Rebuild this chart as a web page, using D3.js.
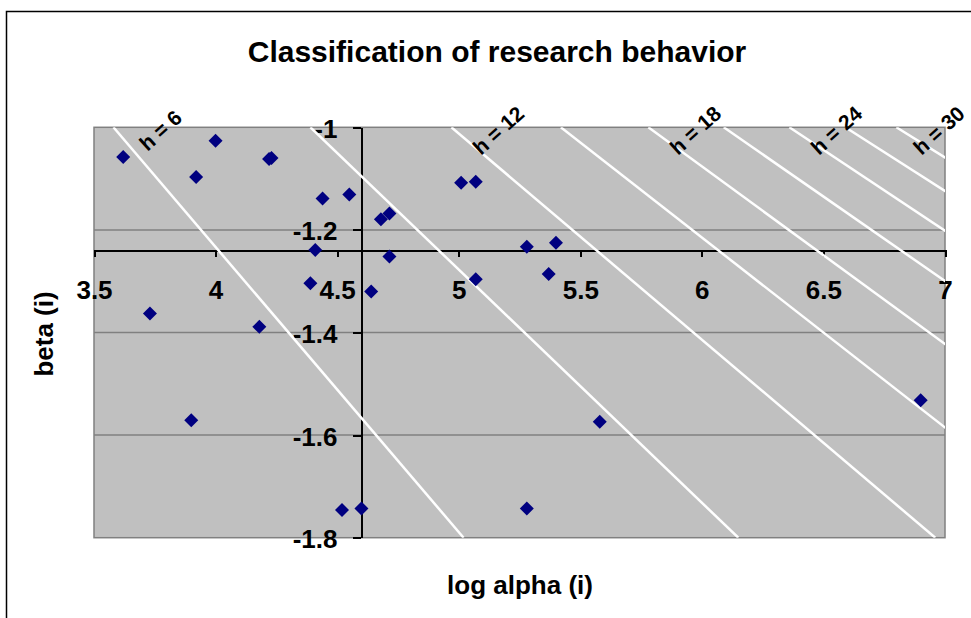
<!DOCTYPE html>
<meta charset="utf-8">
<style>
body { margin: 0; background: #fff; }
text { font-family: Arial, "Liberation Sans", sans-serif; font-weight: bold; fill: #000; }
.axis path, .axis line { stroke: #000; shape-rendering: crispEdges; }
</style>
<body>
<svg width="971" height="618"></svg>
<script src="https://d3js.org/d3.v7.min.js"></script>
<script>
// scatter points: log alpha (i) and beta (i)
var logAlpha = [3.62, 4.00, 3.92, 4.22, 4.23, 4.44, 4.55, 4.68, 4.715, 4.41, 4.715, 4.39, 4.64, 3.73,
                4.18, 3.90, 4.52, 4.60, 5.01, 5.07, 5.28, 5.40, 5.07, 5.37, 5.58, 5.28, 6.90];
var beta = [-1.058, -1.026, -1.097, -1.062, -1.060, -1.139, -1.131, -1.179, -1.168, -1.239, -1.252, -1.304, -1.320, -1.363,
            -1.389, -1.571, -1.746, -1.743, -1.108, -1.106, -1.233, -1.225, -1.296, -1.286, -1.574, -1.743, -1.532];

// iso-h lines: log alpha where each line meets beta = -1 and beta = -1.8
var hValues = [6, 9, 12, 15, 18, 21, 24, 27, 30];
var hAtTop = [3.58, 4.39, 4.97, 5.42, 5.78, 6.09, 6.36, 6.59, 6.80];
var hAtBottom = [5.02, 6.15, 6.96, 7.58, 8.09, 8.52, 8.90, 9.23, 9.52];
var hLabelled = [6, 12, 18, 24, 30];

var xTicks = [3.5, 4, 4.5, 5, 5.5, 6, 6.5, 7];
var yTicks = [-1, -1.2, -1.4, -1.6, -1.8];
var xCross = 4.6, yCross = -1.24;

var svg = d3.select("svg"),
    plot = {left: 94, right: 945, top: 127.3, bottom: 537.7};

var x = d3.scaleLinear().domain([3.5, 7]).range([plot.left, plot.right]);
var y = d3.scaleLinear().domain([-1.8, -1]).range([plot.bottom, plot.top]);

// outer chart frame
svg.append("rect")
    .attr("x", 6.5).attr("y", 11.5).attr("width", 1000).attr("height", 700)
    .attr("fill", "none").attr("stroke", "#000").attr("stroke-width", 1.5);

svg.append("text")
    .attr("x", 497).attr("y", 62)
    .attr("text-anchor", "middle")
    .style("font-size", "30px")
    .text("Classification of research behavior");

// plot area
svg.append("rect")
    .attr("x", plot.left).attr("y", plot.top)
    .attr("width", plot.right - plot.left).attr("height", plot.bottom - plot.top)
    .attr("fill", "#c0c0c0");

svg.append("defs").append("clipPath").attr("id", "clip")
  .append("rect")
    .attr("x", plot.left).attr("y", plot.top)
    .attr("width", plot.right - plot.left).attr("height", plot.bottom - plot.top);

svg.append("g").selectAll("line")
    .data(yTicks.slice(1, -1))
    .enter().append("line")
    .attr("x1", plot.left).attr("x2", plot.right)
    .attr("y1", function(d) { return y(d); }).attr("y2", function(d) { return y(d); })
    .attr("stroke", "#808080").attr("stroke-width", 1.5);

svg.append("rect")
    .attr("x", plot.left).attr("y", plot.top)
    .attr("width", plot.right - plot.left).attr("height", plot.bottom - plot.top)
    .attr("fill", "none").attr("stroke", "#808080").attr("stroke-width", 1.5);

// axes crossing inside the plot
var fmt = function(d) { return String(d); };

var gx = svg.append("g")
    .attr("class", "axis")
    .attr("transform", "translate(0," + y(yCross) + ")")
    .call(d3.axisBottom(x).tickValues(xTicks).tickSize(7).tickSizeOuter(0).tickFormat(fmt));
gx.select(".domain").attr("stroke-width", 2.5);
gx.selectAll(".tick line").attr("stroke-width", 2);
gx.selectAll(".tick text")
    .attr("y", 49).attr("dy", 0)
    .style("font-size", "26px").style("font-family", null);

var gy = svg.append("g")
    .attr("class", "axis")
    .attr("transform", "translate(" + x(xCross) + ",0)")
    .call(d3.axisLeft(y).tickValues(yTicks).tickSize(8).tickSizeOuter(0).tickFormat(fmt));
gy.select(".domain").attr("stroke-width", 2.5);
gy.selectAll(".tick line").attr("stroke-width", 2);
gy.selectAll(".tick text")
    .attr("x", -24).attr("y", 10).attr("dy", 0)
    .style("font-size", "26px").style("font-family", null);

// iso-h lines
svg.append("g")
    .attr("clip-path", "url(#clip)")
    .selectAll("line")
    .data(hValues)
    .enter().append("line")
    .attr("x1", function(d, i) { return x(hAtTop[i]); })
    .attr("y1", y(-1))
    .attr("x2", function(d, i) { return x(hAtBottom[i]); })
    .attr("y2", y(-1.8))
    .attr("stroke", "#fff").attr("stroke-width", 2.5);

svg.append("g").selectAll("text")
    .data(hLabelled)
    .enter().append("text")
    .attr("transform", function(d) {
        var i = hValues.indexOf(d);
        var cx = Math.min(x(hAtTop[i]) + 47, 939);
        return "translate(" + cx + "," + (y(-1) + 3) + ") rotate(-42)";
    })
    .attr("text-anchor", "middle")
    .attr("dy", "0.35em")
    .style("font-size", "21px")
    .text(function(d) { return "h = " + d; });

// data points
var diamond = d3.symbol().type(d3.symbolSquare).size(98);
svg.append("g").selectAll("path")
    .data(logAlpha)
    .enter().append("path")
    .attr("d", diamond)
    .attr("transform", function(d, i) { return "translate(" + x(d) + "," + y(beta[i]) + ") rotate(45)"; })
    .attr("fill", "#000080");

// axis titles
svg.append("text")
    .attr("transform", "translate(53,334) rotate(-90)")
    .attr("text-anchor", "middle")
    .style("font-size", "26px")
    .text("beta (i)");

svg.append("text")
    .attr("x", 520).attr("y", 594)
    .attr("text-anchor", "middle")
    .style("font-size", "26px")
    .text("log alpha (i)");
</script>
</body>
